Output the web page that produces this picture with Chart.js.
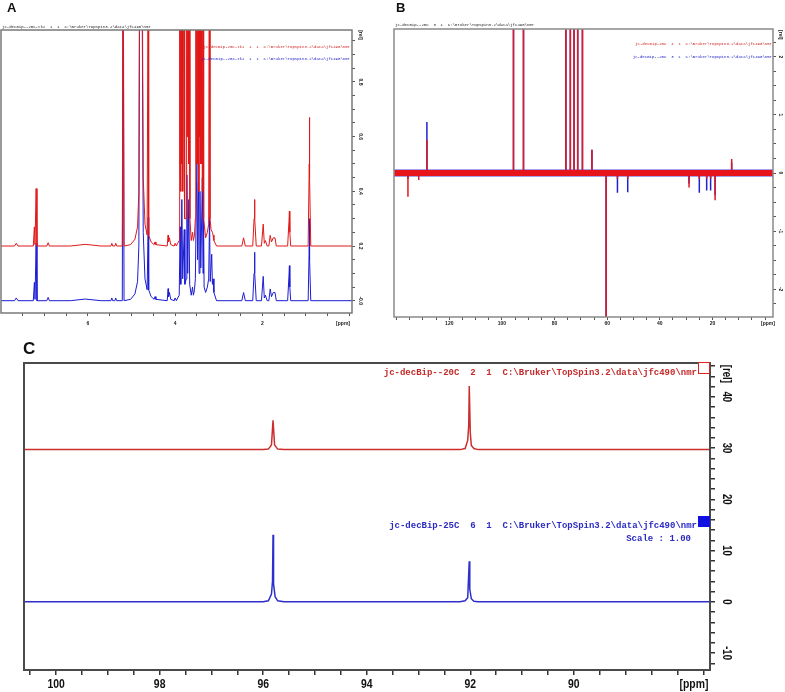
<!DOCTYPE html>
<html>
<head>
<meta charset="utf-8">
<script src="https://cdn.jsdelivr.net/npm/chart.js@4.4.1/dist/chart.umd.min.js"></script>
<style>
  body { margin: 0; background: #fff; width: 785px; height: 692px; position: relative; overflow: hidden; font-family: 'Liberation Sans', Arial, sans-serif; }
  canvas { position: absolute; }
  .t { position: absolute; white-space: pre; }
  .panel { font-weight: bold; color: #111; }
  .tiny { font-family: 'Liberation Mono', monospace; font-size: 4px; line-height: 4px; }
  .mono { font-family: 'Liberation Mono', monospace; font-size: 9px; font-weight: bold; line-height: 10px; }
</style>
</head>
<body>
<canvas id="chartA" width="392" height="330" style="left:0;top:0"></canvas>
<canvas id="chartB" width="393" height="330" style="left:392px;top:0"></canvas>
<canvas id="chartC" width="785" height="357" style="left:0;top:335px"></canvas>

<div class="t panel" style="left:7px;top:0px;font-size:13px">A</div>
<div class="t panel" style="left:396px;top:0px;font-size:13px">B</div>
<div class="t panel" style="left:23px;top:339px;font-size:17px">C</div>

<div class="t tiny" style="left:2px;top:25px;color:#222">jc-decBip--20C-tk2  1  1  C:\Bruker\TopSpin3.2\data\jfc490\nmr</div>
<div class="t tiny" style="right:435px;top:45px;color:#d02020">jc-decBip-20C-tk2  1  1  C:\Bruker\TopSpin3.2\data\jfc490\nmr</div>
<div class="t tiny" style="right:435px;top:57px;color:#2020c8">jc-decBip--20C-tk2  1  1  C:\Bruker\TopSpin3.2\data\jfc490\nmr</div>

<div class="t tiny" style="left:395px;top:23px;color:#222">jc-decBip--20C  3  1  C:\Bruker\TopSpin3.2\data\jfc490\nmr</div>
<div class="t tiny" style="right:13px;top:42px;color:#d02020">jc-decBip-20C  4  1  C:\Bruker\TopSpin3.2\data\jfc490\nmr</div>
<div class="t tiny" style="right:13px;top:55px;color:#2020c8">jc-decBip--20C  3  1  C:\Bruker\TopSpin3.2\data\jfc490\nmr</div>

<div class="t mono" style="right:88px;top:368px;color:#c42a2a">jc-decBip--20C  2  1  C:\Bruker\TopSpin3.2\data\jfc490\nmr</div>
<div class="t mono" style="right:88px;top:521px;color:#2a2ac4">jc-decBip-25C  6  1  C:\Bruker\TopSpin3.2\data\jfc490\nmr</div>
<div class="t mono" style="right:94px;top:534px;color:#2a2ac4">Scale : 1.00</div>
<div class="t" style="left:698px;top:362px;width:10px;height:10px;border:1px solid #d22;background:#fff"></div>
<div class="t" style="left:698px;top:516px;width:12px;height:11px;background:#1010e0"></div>

<script>
// ---- panel A: 1H spectra (ppm, intensity) ----
const aRedSpec = [
  [7.99,0.2],[7.68,0.2],[7.64,0.21],[7.60,0.2],[7.25,0.2],[7.225,0.27],[7.21,0.205],[7.185,0.41],[7.165,0.2],
  [6.94,0.2],[6.91,0.212],[6.88,0.2],[6.4,0.2],[6.06,0.206],[5.7,0.2],
  [5.47,0.2],[5.45,0.21],[5.43,0.2],[5.38,0.2],[5.36,0.21],[5.34,0.2],
  [5.21,0.2],[5.19,1.5],[5.17,0.2],
  [5.02,0.205],[4.92,0.225],[4.86,0.27],[4.83,0.4],[4.81,1.5],[4.76,1.5],[4.73,0.45],[4.69,0.28],[4.64,0.24],
  [4.625,0.24],[4.615,1.5],[4.605,0.24],[4.55,0.215],
  [4.48,0.205],[4.46,0.215],[4.44,0.205],
  [4.18,0.2],[4.16,0.24],[4.15,0.215],[4.13,0.23],[4.1,0.205],
  [4.02,0.2],[4.0,0.21],[3.97,0.2],[3.94,0.21],
  [3.905,0.22],[3.895,1.5],[3.885,0.5],[3.875,1.5],[3.865,0.4],[3.855,1.5],[3.845,0.5],[3.835,1.5],
  [3.825,0.4],[3.805,1.5],[3.795,0.5],[3.785,1.5],[3.775,0.3],
  [3.745,0.3],[3.735,1.5],[3.725,0.6],[3.715,1.5],[3.705,0.6],[3.695,1.5],[3.685,0.5],[3.675,1.5],[3.66,0.3],
  [3.63,0.22],[3.60,0.25],[3.58,0.22],[3.555,0.24],
  [3.535,0.3],[3.525,1.5],[3.515,0.5],[3.505,1.5],[3.495,0.6],[3.485,1.5],[3.475,0.5],[3.465,1.5],[3.455,0.4],
  [3.445,1.5],[3.435,0.6],[3.425,1.5],[3.415,0.5],[3.405,1.5],[3.395,0.5],[3.385,1.5],[3.375,0.4],[3.36,1.5],[3.345,0.3],
  [3.30,0.23],[3.26,0.25],[3.23,0.28],[3.215,1.5],[3.20,0.3],[3.175,0.26],[3.16,0.26],[3.145,0.25],[3.13,0.24],[3.11,0.22],[3.05,0.2],
  [2.47,0.2],[2.43,0.23],[2.39,0.2],
  [2.22,0.2],[2.19,0.3],[2.18,0.37],[2.17,0.3],[2.14,0.2],
  [2.02,0.2],[1.98,0.28],[1.955,0.21],[1.93,0.22],[1.89,0.2],
  [1.85,0.2],[1.82,0.239],[1.79,0.215],[1.75,0.23],[1.71,0.23],[1.68,0.2],
  [1.42,0.2],[1.39,0.29],[1.38,0.327],[1.37,0.25],[1.35,0.2],
  [0.95,0.2],[0.925,0.5],[0.92,0.67],[0.915,0.45],[0.89,0.2],
  [-0.055,0.2]
];
const aBlueSpec = [
  [7.99,0],[7.68,0],[7.64,0.01],[7.60,0],[7.25,0],[7.225,0.067],[7.21,0.005],[7.185,0.21],[7.165,0],
  [6.94,0],[6.91,0.012],[6.88,0],[6.4,0],[6.06,0.006],[5.7,0],
  [5.47,0],[5.45,0.01],[5.43,0],[5.38,0],[5.36,0.01],[5.34,0],
  [5.21,0],[5.19,1.3],[5.17,0],
  [5.02,0.005],[4.92,0.025],[4.86,0.07],[4.83,0.2],[4.81,1.3],[4.76,1.3],[4.73,0.25],[4.69,0.08],[4.64,0.04],
  [4.625,0.04],[4.615,0.305],[4.605,0.04],[4.55,0.015],
  [4.48,0.005],[4.46,0.015],[4.44,0.005],
  [4.18,0],[4.16,0.044],[4.15,0.015],[4.13,0.03],[4.1,0.005],
  [4.02,0],[4.0,0.01],[3.97,0],[3.94,0.01],
  [3.905,0.02],[3.885,0.27],[3.87,0.06],[3.845,0.37],[3.825,0.08],[3.79,0.26],[3.775,0.06],
  [3.745,0.08],[3.73,0.46],[3.71,0.1],[3.685,0.37],[3.665,0.06],
  [3.63,0.02],[3.60,0.05],[3.58,0.02],[3.555,0.04],
  [3.535,0.08],[3.50,0.52],[3.485,0.15],[3.465,0.43],[3.45,0.1],[3.43,0.40],[3.41,0.12],[3.375,0.45],[3.36,0.1],[3.35,0.37],[3.335,0.05],
  [3.30,0.03],[3.26,0.05],[3.23,0.08],[3.21,0.305],[3.195,0.07],[3.16,0.17],[3.145,0.06],[3.13,0.08],[3.11,0.03],[3.05,0],
  [2.47,0],[2.43,0.03],[2.39,0],
  [2.22,0],[2.19,0.1],[2.18,0.177],[2.17,0.1],[2.14,0],
  [2.02,0],[1.98,0.089],[1.955,0.01],[1.93,0.02],[1.89,0],
  [1.85,0],[1.82,0.043],[1.79,0.015],[1.75,0.03],[1.71,0.03],[1.68,0],
  [1.42,0],[1.39,0.09],[1.38,0.128],[1.37,0.05],[1.35,0],
  [0.95,0],[0.925,0.2],[0.92,0.3],[0.915,0.15],[0.89,0],
  [-0.055,0]
];
const aXLabels = [6, 4, 2];
const aYLabels = [0, 0.2, 0.4, 0.6, 0.8];
const aYTexts = ['-0.0', '0.2', '0.4', '0.6', '0.8'];

// ---- panel B: 13C sticks ----
const bPeakPpm   = [135.7, 131.6, 128.5, 95.6, 91.8, 75.7, 74.0, 72.6, 71.2, 69.4, 65.8, 60.4, 56.1, 52.2, 28.9, 25.0, 22.2, 20.7, 19.0, 12.7];
const bRedHeight = [-0.41, -0.12, 0.57, 3, 3, 3, 3, 3, 3, 3, 0.4, -3, -0.1, -0.1, -0.25, -0.1, -0.1, -0.1, -0.47, 0.24];
const bBlueHeight= [-0.1, -0.05, 0.88, 3, 3, 3, 3, 3, 3, 3, 0.4, -3, -0.34, -0.33, -0.18, -0.34, -0.3, -0.3, -0.38, 0.18];
const bXLabels = [120, 100, 80, 60, 40, 20];
const bYLabels = [-2, -1, 0, 1, 2];
const bYTexts = ['-2', '-1', '0', '1', '2'];

// ---- panel C: anomeric region ----
const cRedSpec = [
  [100.62,29.7],[96.0,29.7],[95.9,29.8],[95.84,30.6],[95.81,35.4],[95.78,30.6],[95.72,29.8],[95.6,29.7],
  [92.2,29.7],[92.1,29.9],[92.05,31.5],[92.03,34.5],[92.02,42.1],[92.0,33],[91.98,30.5],[91.93,29.9],[91.85,29.7],[87.37,29.7]
];
const cBlueSpec = [
  [100.62,0],[96.0,0],[95.9,0.2],[95.84,1.5],[95.82,4],[95.81,13.1],[95.8,3.5],[95.77,1],[95.72,0.2],[95.6,0],
  [92.2,0],[92.1,0.2],[92.05,0.8],[92.03,5.5],[92.02,7.9],[92.01,2.5],[91.98,0.6],[91.93,0.1],[91.85,0],[87.37,0]
];
const cXLabels = [100, 98, 96, 94, 92, 90];
const cYLabels = [-10, 0, 10, 20, 30, 40];
const cYTexts = ['-10', '0', '10', '20', '30', '40'];

const toXY = arr => arr.map(p => ({ x: p[0], y: p[1] }));

function stickPoints(ppm, h, left, right) {
  const pts = [{ x: left, y: 0 }];
  ppm.forEach((p, i) => { pts.push({ x: p, y: 0 }, { x: p, y: h[i] }, { x: p, y: 0 }); });
  pts.push({ x: right, y: 0 });
  return pts;
}

// box round the plot, axis labels (narrowed like the TopSpin print) and units
const nmrFrame = {
  id: 'nmrFrame',
  afterDraw(chart, args, o) {
    const { ctx, chartArea: a, scales: { x, y } } = chart;
    ctx.save();
    ctx.strokeStyle = o.frameColor;
    ctx.lineWidth = o.frameWidth;
    ctx.strokeRect(a.left, a.top, a.right - a.left, a.bottom - a.top);
    ctx.fillStyle = o.color;
    ctx.textAlign = 'center';
    ctx.textBaseline = 'middle';
    ctx.font = o.font;
    const rot = (txt, v) => {
      ctx.save();
      ctx.translate(y.left + o.yOffset, y.getPixelForValue(v));
      ctx.rotate(Math.PI / 2);
      ctx.scale(o.squeeze, 1);
      ctx.fillText(txt, 0, 0);
      ctx.restore();
    };
    o.yVals.forEach((v, i) => rot(o.yTexts[i], v));
    rot('[rel]', o.relAt);
    ctx.font = o.xFont;
    const flat = (txt, v) => {
      ctx.save();
      ctx.translate(x.getPixelForValue(v), x.top + o.xDy);
      ctx.scale(o.squeeze, 1);
      ctx.fillText(txt, 0, 0);
      ctx.restore();
    };
    o.xVals.forEach(v => flat(String(v), v));
    flat('[ppm]', o.ppmAt);
    ctx.restore();
  }
};

function buildChart(id, datasets, s) {
  return new Chart(document.getElementById(id), {
    type: 'line',
    data: { datasets },
    plugins: [nmrFrame],
    options: {
      responsive: false,
      animation: false,
      events: [],
      layout: { padding: s.padding },
      elements: { point: { radius: 0 }, line: { tension: 0 } },
      plugins: { legend: { display: false }, tooltip: { enabled: false }, nmrFrame: s.frame },
      scales: {
        x: {
          type: 'linear', reverse: true, min: s.xMin, max: s.xMax,
          afterFit: sc => { sc.height = s.xHeight; },
          border: { display: false },
          grid: { drawOnChartArea: false, drawTicks: true, tickLength: s.tickLen, color: s.tickColor, tickColor: s.tickColor, lineWidth: s.tickWidth },
          ticks: { stepSize: s.xStep, maxTicksLimit: 1000, includeBounds: false, autoSkip: false, maxRotation: 0, minRotation: 0, callback: () => '' }
        },
        y: {
          type: 'linear', position: 'right', min: s.yMin, max: s.yMax,
          afterFit: sc => { sc.width = s.yWidth; },
          border: { display: false },
          grid: { drawOnChartArea: false, drawTicks: true, tickLength: s.tickLen, color: s.tickColor, tickColor: s.tickColor, lineWidth: s.tickWidth },
          ticks: { stepSize: s.yStep, maxTicksLimit: 1000, includeBounds: false, autoSkip: false, callback: () => '' }
        }
      }
    }
  });
}

const tinyFont = 'bold 5px "Liberation Sans", Arial, sans-serif';

buildChart('chartA', [
  { data: toXY(aRedSpec), borderColor: '#e01818', borderWidth: 1 },
  { data: toXY(aBlueSpec), borderColor: '#1c1cd4', borderWidth: 1 }
], {
  padding: { left: 1, top: 30, right: 0, bottom: 0 },
  xMin: -0.055, xMax: 7.99, xStep: 0.5, xHeight: 17,
  yMin: -0.045, yMax: 0.99, yStep: 0.05, yWidth: 40,
  tickLen: 3, tickColor: '#555', tickWidth: 1,
  frame: { frameColor: '#7a7a7a', frameWidth: 1.5, color: '#222', font: tinyFont, xFont: tinyFont, squeeze: 1,
    yOffset: 8, yVals: aYLabels, yTexts: aYTexts, relAt: 0.972,
    xVals: aXLabels, xDy: 10.5, ppmAt: 0.15 }
});

buildChart('chartB', [
  { data: [{ x: 141, y: 0 }, { x: -3, y: 0 }], borderColor: '#e8141c', borderWidth: 6 },
  { data: stickPoints(bPeakPpm, bRedHeight, 141, -3), borderColor: '#e01820', borderWidth: 1.5 },
  { data: stickPoints(bPeakPpm, bBlueHeight, 141, -3), borderColor: '#2222d0', borderWidth: 1.5 },
  { data: [{ x: 141, y: 0 }, { x: -3, y: 0 }], borderColor: '#4a4ad8', borderWidth: 7 }
], {
  padding: { left: 2, top: 29, right: 0, bottom: 0 },
  xMin: -3, xMax: 141, xStep: 5, xHeight: 13,
  yMin: -2.48, yMax: 2.48, yStep: 0.25, yWidth: 12,
  tickLen: 3, tickColor: '#555', tickWidth: 1,
  frame: { frameColor: '#8a8a8a', frameWidth: 1.5, color: '#222', font: tinyFont, xFont: tinyFont, squeeze: 1,
    yOffset: 7.5, yVals: bYLabels, yTexts: bYTexts, relAt: 2.38,
    xVals: bXLabels, xDy: 6.8, ppmAt: -1.1 }
});

const cFont = 'bold 12px "Liberation Sans", Arial, sans-serif';
buildChart('chartC', [
  { data: toXY(cRedSpec), borderColor: '#cc2e2e', borderWidth: 1.5 },
  { data: toXY(cBlueSpec), borderColor: '#2e2ecc', borderWidth: 1.5 }
], {
  padding: { left: 24, top: 28, right: 0, bottom: 0 },
  xMin: 87.37, xMax: 100.62, xStep: 0.5, xHeight: 22,
  yMin: -13.3, yMax: 46.6, yStep: 2, yWidth: 75,
  tickLen: 5, tickColor: '#333', tickWidth: 1.5,
  frame: { frameColor: '#4a4a4a', frameWidth: 2, color: '#111', font: cFont, squeeze: 0.8,
    xFont: 'bold 13px "Liberation Sans", Arial, sans-serif',
    yOffset: 16, yVals: cYLabels, yTexts: cYTexts, relAt: 44.5,
    xVals: cXLabels, xDy: 14, ppmAt: 87.68 }
});
</script>
</body>
</html>
